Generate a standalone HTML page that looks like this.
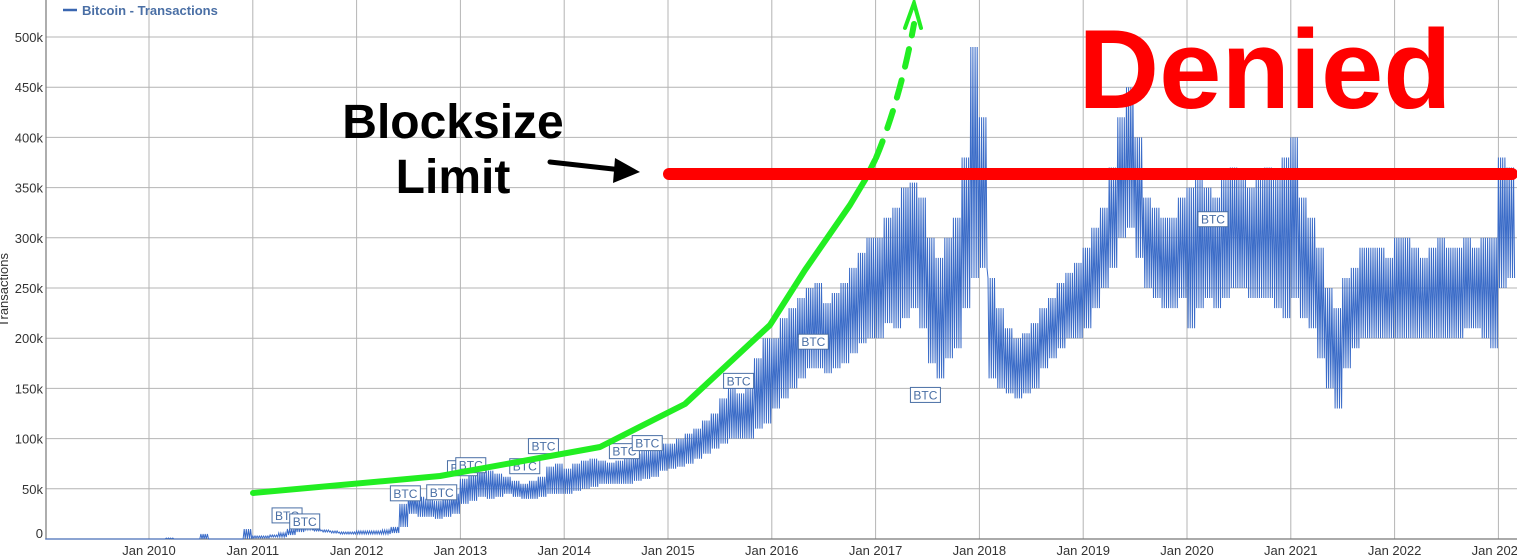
<!DOCTYPE html>
<html><head><meta charset="utf-8"><style>
body{margin:0;background:#fff;width:1517px;height:558px;overflow:hidden;font-family:"Liberation Sans",sans-serif}
svg{display:block}
</style></head><body>
<svg id="chart" width="1517" height="558" viewBox="0 0 1517 558">
<g id="grid"></g>
<g id="yticks"></g>
<g id="xticks"></g>
<text transform="translate(8,290) rotate(-90)" text-anchor="middle" font-size="13" fill="#333">Transactions</text>
<g><line x1="63" y1="10" x2="77" y2="10" stroke="#3a66b0" stroke-width="2.5"/><text x="82" y="15" font-size="13" font-weight="bold" fill="#4a6fa5">Bitcoin - Transactions</text></g>
<path id="series" fill="none" stroke="#3b6cc8" stroke-width="1"/>
<g id="flags"></g>
<polyline points="253,493 440,476 600,447 685,404 770,325 805,270 850,205 865,180 875,160" fill="none" stroke="#22ee22" stroke-width="6" stroke-linecap="round" stroke-linejoin="round"/>
<path d="M876,158 Q900,100 914,24" fill="none" stroke="#22ee22" stroke-width="6" stroke-dasharray="18,14" stroke-linecap="round"/>
<path d="M905,28 L914,3 L921,28" fill="none" stroke="#22ee22" stroke-width="4" stroke-linecap="round"/>
<line x1="669" y1="174" x2="1512" y2="174" stroke="#ff0000" stroke-width="12" stroke-linecap="round"/>
<line x1="550" y1="162" x2="622" y2="170" stroke="#000" stroke-width="5" stroke-linecap="round"/>
<path d="M615,158 L640,172 L613,183 Z" fill="#000"/>
<text x="453" y="138" text-anchor="middle" font-size="48" font-weight="bold" fill="#000">Blocksize</text>
<text x="453" y="193" text-anchor="middle" font-size="48" font-weight="bold" fill="#000">Limit</text>
<text x="1265" y="108" text-anchor="middle" font-size="112" font-weight="bold" fill="#ff0000">Denied</text>
</svg>
<script>
const yTicks=[0,50,100,150,200,250,300,350,400,450,500];
const xYears=[2010,2011,2012,2013,2014,2015,2016,2017,2018,2019,2020,2021,2022,2023];
const startYear=2009;
const lo=[
0,0,0,0,0,0,0,0,0,0,0,0,
0,0,0,0,0,0,0,0,0,0,0,0,
1,1,2,2,4,7,9,8,7,6,5,5,
5,5,5,5,6,12,25,22,22,20,22,25,
35,38,42,40,42,45,42,40,40,42,45,45,
45,48,50,52,55,55,55,55,58,60,62,68,
70,72,75,80,85,90,95,100,100,100,110,115,
130,140,150,160,170,170,165,170,175,185,195,200,
200,215,210,220,230,210,175,160,180,190,230,260,
270,160,150,145,140,145,150,170,180,190,200,200,
210,230,250,270,300,310,280,250,240,230,230,240,
210,230,240,230,240,250,250,240,240,240,230,220,
240,220,210,180,150,130,170,190,200,200,200,200,
200,200,200,200,200,200,200,200,210,210,200,190,
250,260];
const hi=[
0,0,0,0,0,0,0,0,0,0,0,0,
0,0,1,0,0,0,5,0,0,0,0,10,
3,3,4,6,10,14,12,10,9,8,7,7,
8,8,8,9,12,35,45,42,40,38,42,45,
60,65,70,68,65,62,58,55,58,62,72,75,
70,75,78,80,78,76,78,80,85,88,90,95,
95,100,105,110,118,125,140,150,145,150,180,200,
200,220,230,240,250,255,235,245,255,270,285,300,
300,320,330,350,355,340,300,280,300,320,380,490,
420,260,230,210,200,205,215,230,240,255,265,275,
290,310,330,370,420,450,400,340,330,320,320,340,
350,360,350,340,360,370,360,350,360,370,360,380,
400,340,320,290,250,230,260,270,290,290,290,280,
300,300,290,280,290,300,290,290,300,290,300,300,
380,370];
const flagYears=[2011.33,2011.5,2012.47,2012.82,2013.02,2013.1,2013.62,2013.8,2014.58,2014.8,2015.68,2016.4,2017.48,2020.25];
const flagVals=[23,17,45,46,70,73,72,92,87,95,157,196,143,318];
const NS='http://www.w3.org/2000/svg';
const X=t=>149+(t-2010)*103.8;
const Y=v=>539-v*1.004;
function mk(tag,attrs,parent){const e=document.createElementNS(NS,tag);for(const k in attrs)e.setAttribute(k,attrs[k]);parent.appendChild(e);return e;}
const grid=document.getElementById('grid'),yt=document.getElementById('yticks'),xt=document.getElementById('xticks');
yTicks.forEach(v=>{
 const l=mk('line',{x1:46,x2:1517,y1:Y(v),y2:Y(v),stroke:'#b4b4b4','stroke-width':1},grid);
 
 
 const t=mk('text',{x:43,y:Y(v)+(v===0?-1:5),'text-anchor':'end','font-size':13,fill:'#333'},yt);
 
 
 t.textContent=v===0?'0':v+'k';
});
xYears.forEach(y=>{
 const l=mk('line',{x1:X(y),x2:X(y),y1:0,y2:539,stroke:'#b4b4b4','stroke-width':1},grid);
 
 
 const t=mk('text',{x:X(y),y:555,'text-anchor':'middle','font-size':13,fill:'#333'},xt);
 
 
 t.textContent='Jan '+y;
});
const ax=mk('path',{d:'M46,0 V539 H1517',stroke:'#777','stroke-width':1.2,fill:'none'},grid);


let d='';
const SUB=8;
for(let i=0;i<lo.length;i++){
 for(let k=0;k<SUB;k++){
  const t=startYear+(i+k/SUB)/12;
  const v=(k%2===0)?hi[i]:lo[i];
  d+=(d?'L':'M')+X(t).toFixed(1)+','+Y(v).toFixed(1);
 }
}
document.getElementById('series').setAttribute('d',d);
const fg=document.getElementById('flags');
flagYears.forEach((fy,i)=>{
 const cx=X(fy),cy=Y(flagVals[i]);
 const g=mk('g',{},fg);
 
 
 mk('rect',{x:cx-15,y:cy-8,width:30,height:15,fill:'#fff',stroke:'#4a6fa5','stroke-width':1},g);
 const t=mk('text',{x:cx,y:cy+4,'text-anchor':'middle','font-size':12,fill:'#4a6fa5'},g);
 t.textContent='BTC';
});
</script>
</body></html>
